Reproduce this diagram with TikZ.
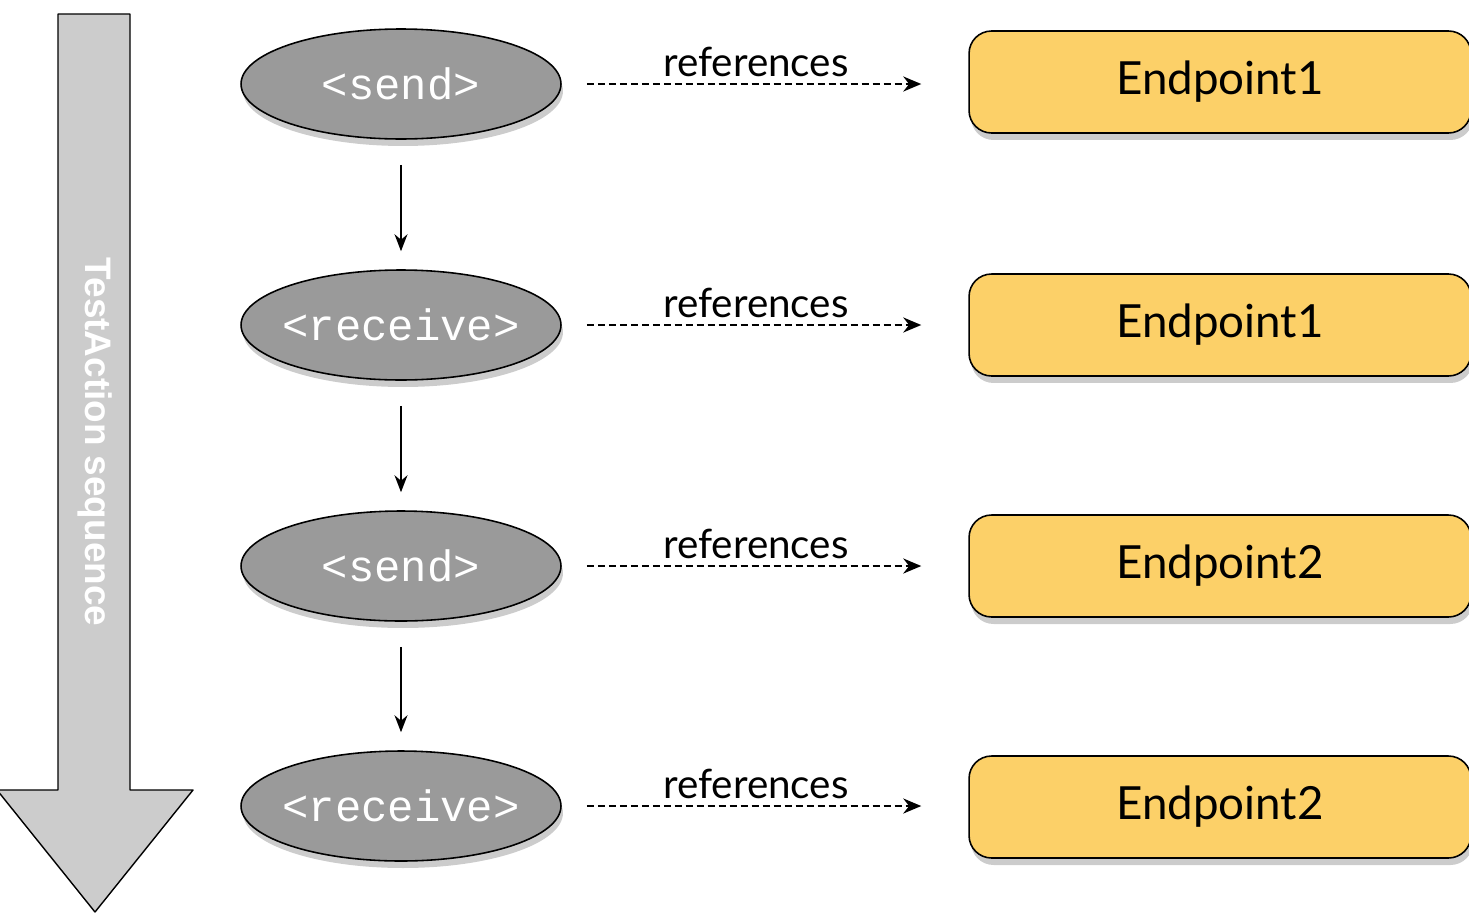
\documentclass[tikz,border=0pt]{standalone}
\usepackage{fontspec}
\setmainfont{Lato}
\setmonofont{Liberation Mono}
\newfontfamily\seqfont{Liberation Sans}
\usetikzlibrary{shapes.geometric,shadows,arrows.meta}
\definecolor{actgray}{HTML}{9A9A9A}
\definecolor{seqgray}{HTML}{CCCCCC}
\definecolor{epyellow}{HTML}{FCD068}
\newcommand{\acttext}[1]{\makebox[0pt]{#1}} %%% keep the ellipse size fixed
\tikzset{
  action/.style={ellipse,draw,line width=0.9pt,fill=actgray,minimum width=6.4cm,minimum height=2.2cm,inner sep=0pt,
    text=white,font=\ttfamily\fontsize{25}{25}\selectfont,
    drop shadow={shadow xshift=0.04cm,shadow yshift=-0.14cm,opacity=0.4}},
  endpoint/.style={rectangle,rounded corners=0.45cm,draw,line width=0.9pt,fill=epyellow,minimum width=10.04cm,minimum height=2.04cm,
    inner sep=0pt,font=\fontsize{26}{26}\selectfont,
    drop shadow={shadow xshift=0.04cm,shadow yshift=-0.14cm,opacity=0.4}},
  refline/.style={-{Stealth[length=0.36cm,width=0.3cm]},dash pattern=on 0.14cm off 0.08cm,line width=1.5pt,
    shorten <=0.5cm,shorten >=0.94cm},
  nextline/.style={-{Stealth[length=0.34cm,width=0.26cm]},line width=0.9pt,shorten <=0.5cm,shorten >=0.36cm},
  reflabel/.style={midway,above,xshift=-0.18cm,inner sep=0.12cm,font=\fontsize{23}{23}\selectfont}
}
\begin{document}
\begin{tikzpicture}[x=0.02cm,y=-0.02cm,line join=round]
  \useasboundingbox (0,0) rectangle (1469,913);
  %%% sequence arrow
  \draw[fill=seqgray,line width=0.8pt] (58,14)--(130,14)--(130,790)--(193,790)--(95,912)--(-3,790)--(58,790)--cycle;
  \node[rotate=-90,text=white,font=\seqfont\bfseries\fontsize{21}{21}\selectfont] (seq) at (95,442) {TestAction sequence};
  %%% actions
  \node[action] (send1) at (401,84) {\acttext{<send>}};
  \node[action] (recv1) at (401,325) {\acttext{<receive>}};
  \node[action] (send2) at (401,566) {\acttext{<send>}};
  \node[action] (recv2) at (401,806) {\acttext{<receive>}};
  %%% endpoints
  \node[endpoint] (ep1) at (1220,82) {Endpoint1};
  \node[endpoint] (ep2) at (1220,325) {Endpoint1};
  \node[endpoint] (ep3) at (1220,566) {Endpoint2};
  \node[endpoint] (ep4) at (1220,807) {Endpoint2};
  %%% order
  \draw[nextline] (send1.south)--(recv1.north);
  \draw[nextline] (recv1.south)--(send2.north);
  \draw[nextline] (send2.south)--(recv2.north);
  %%% references
  \draw[refline] (send1.east)--(send1.east-|ep1.west) node[reflabel]{references};
  \draw[refline] (recv1.east)--(recv1.east-|ep2.west) node[reflabel]{references};
  \draw[refline] (send2.east)--(send2.east-|ep3.west) node[reflabel]{references};
  \draw[refline] (recv2.east)--(recv2.east-|ep4.west) node[reflabel]{references};
\end{tikzpicture}
\end{document}
